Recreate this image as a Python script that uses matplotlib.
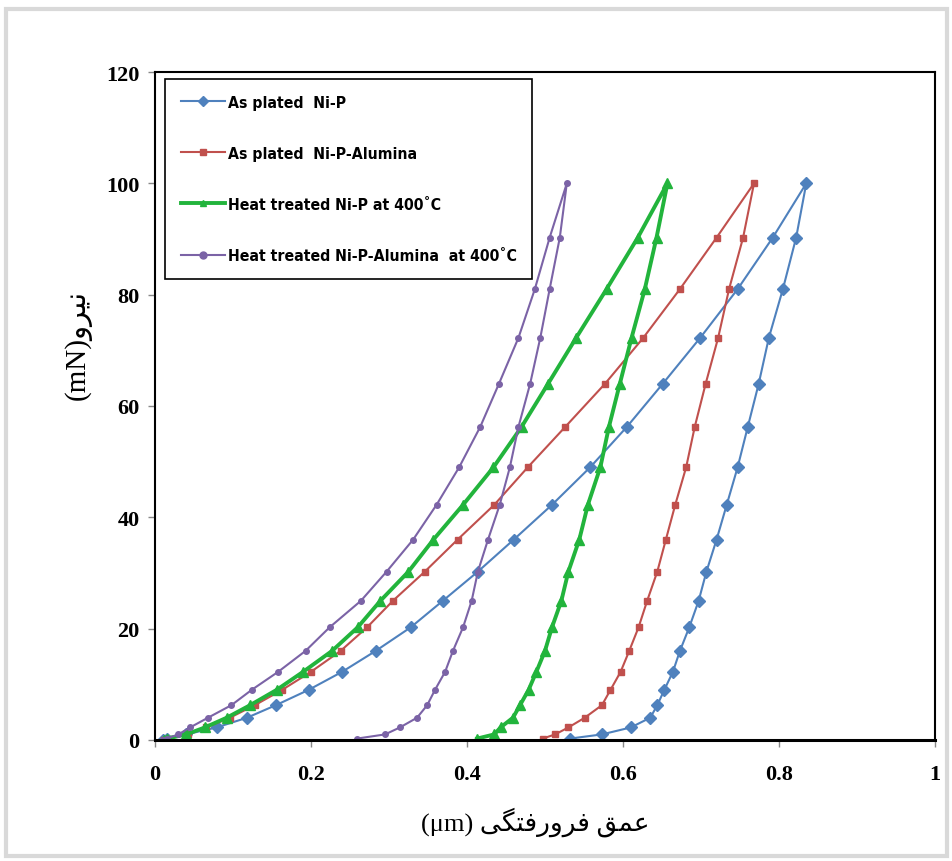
import matplotlib
matplotlib.use("Agg")
import matplotlib.pyplot as plt
from matplotlib.patches import Rectangle

# force levels (mN) - same levels on loading and unloading branch
force_up = [0, 0.25, 1, 2.25, 4, 6.25, 9, 12.25, 16, 20.25, 25, 30.25, 36, 42.25,
            49, 56.25, 64, 72.25, 81, 90.25, 100]
force_down = [90.25, 81, 72.25, 64, 56.25, 49, 42.25, 36, 30.25, 25, 20.25, 16,
              12.25, 9, 6.25, 4, 2.25, 1, 0.25]

# depth (um), loading then unloading
nip_load = [0.010, 0.015, 0.040, 0.079, 0.118, 0.155, 0.197, 0.240, 0.283, 0.328, 0.369,
            0.414, 0.460, 0.509, 0.558, 0.605, 0.651, 0.699, 0.747, 0.792, 0.835]
nip_unload = [0.822, 0.805, 0.787, 0.774, 0.760, 0.747, 0.733, 0.720, 0.707, 0.697,
              0.685, 0.673, 0.664, 0.653, 0.644, 0.635, 0.610, 0.573, 0.532]

nipal_load = [0.012, 0.018, 0.042, 0.066, 0.096, 0.128, 0.163, 0.200, 0.238, 0.272, 0.305,
              0.346, 0.388, 0.435, 0.478, 0.526, 0.577, 0.626, 0.673, 0.720, 0.768]
nipal_unload = [0.754, 0.736, 0.722, 0.706, 0.692, 0.681, 0.667, 0.655, 0.644, 0.631,
                0.620, 0.608, 0.597, 0.584, 0.573, 0.551, 0.530, 0.513, 0.497]

ht_nip_load = [0.012, 0.015, 0.040, 0.064, 0.092, 0.122, 0.156, 0.190, 0.227, 0.260, 0.289,
               0.325, 0.357, 0.395, 0.434, 0.470, 0.504, 0.540, 0.579, 0.619, 0.657]
ht_nip_unload = [0.643, 0.628, 0.611, 0.596, 0.582, 0.571, 0.555, 0.544, 0.530, 0.521,
                 0.509, 0.500, 0.489, 0.479, 0.468, 0.459, 0.443, 0.435, 0.413]

ht_nipal_load = [0.010, 0.015, 0.030, 0.045, 0.068, 0.098, 0.124, 0.158, 0.193, 0.224, 0.264,
                 0.297, 0.331, 0.361, 0.390, 0.417, 0.441, 0.466, 0.487, 0.506, 0.528]
ht_nipal_unload = [0.519, 0.506, 0.494, 0.481, 0.466, 0.455, 0.442, 0.427, 0.414, 0.406,
                   0.395, 0.382, 0.372, 0.359, 0.349, 0.336, 0.314, 0.295, 0.259]

labels = ["As plated  Ni-P", "As plated  Ni-P-Alumina",
          "Heat treated Ni-P at 400\u02daC", "Heat treated Ni-P-Alumina  at 400\u02daC"]
x_ticks = [0, 0.2, 0.4, 0.6, 0.8, 1]
x_ticklabels = ["0", "0.2", "0.4", "0.6", "0.8", "1"]
y_ticks = [0, 20, 40, 60, 80, 100, 120]

# Persian labels written in visual order with presentation forms (no shaping in matplotlib)
xlabel = "(\u03bcm) " + "\uFBFD\uFB95\uFE98\uFED3\uFEAD\uFEED\uFEAE\uFED3 \uFED6\uFEE4\uFECB"
ylabel = "(mN)" + "\uFEED\uFEAE\uFBFF\uFEE7"

fig = plt.figure(figsize=(9.53, 8.62), dpi=100)
fig.patches.append(Rectangle((0.006, 0.006), 0.988, 0.982, transform=fig.transFigure,
                             fill=False, edgecolor="#d9d9d9", linewidth=3))
ax = fig.add_axes([0.1626, 0.1404, 0.8185, 0.7749])

force = force_up + force_down
ax.plot(nip_load + nip_unload, force, color="#4F81BD", lw=1.5, marker="D",
        ms=6, mec="#4F81BD", label=labels[0])
ax.plot(nipal_load + nipal_unload, force, color="#C0504D", lw=1.5, marker="s",
        ms=5, label=labels[1])
ax.plot(ht_nip_load + ht_nip_unload, force, color="#22B43C", lw=2.8, marker="^",
        ms=7, label=labels[2])
ax.plot(ht_nipal_load + ht_nipal_unload, force, color="#7B63A6", lw=1.5, marker="o",
        ms=4, label=labels[3])

ax.set_xlim(0, 1)
ax.set_ylim(0, 120)
ax.set_xticks(x_ticks)
ax.set_xticklabels(x_ticklabels)
ax.set_yticks(y_ticks)
for s in ax.spines.values():
    s.set_linewidth(1.5)
    s.set_color("black")
ax.spines["bottom"].set_linewidth(2.2)
ax.tick_params(direction="out", length=5, width=1, color="#888888", pad=6)
for t in ax.get_xticklabels() + ax.get_yticklabels():
    t.set_fontfamily("Liberation Serif")
    t.set_fontweight("bold")
    t.set_fontsize(16)
ax.tick_params(axis="x", pad=12)

ax.set_xlabel(xlabel, family=["Liberation Serif", "DejaVu Sans"], fontsize=19)
ax.xaxis.set_label_coords(0.487, -0.100)
ax.set_ylabel(ylabel, family=["Liberation Serif", "DejaVu Sans"], fontsize=21)
ax.yaxis.set_label_coords(-0.081, 0.593)

leg = ax.legend(loc="upper left", bbox_to_anchor=(0.0128, 0.9895), borderaxespad=0,
                fancybox=False, edgecolor="black", framealpha=1, labelspacing=2.3,
                handlelength=2.8, handletextpad=0.2, borderpad=1.0,
                prop={"family": "DejaVu Sans", "size": 11.3, "weight": "bold",
                      "stretch": "condensed"})
leg.get_frame().set_linewidth(1.2)
for h in leg.legend_handles:
    h.set_markersize(5)

fig.savefig("out.png", dpi=100)
